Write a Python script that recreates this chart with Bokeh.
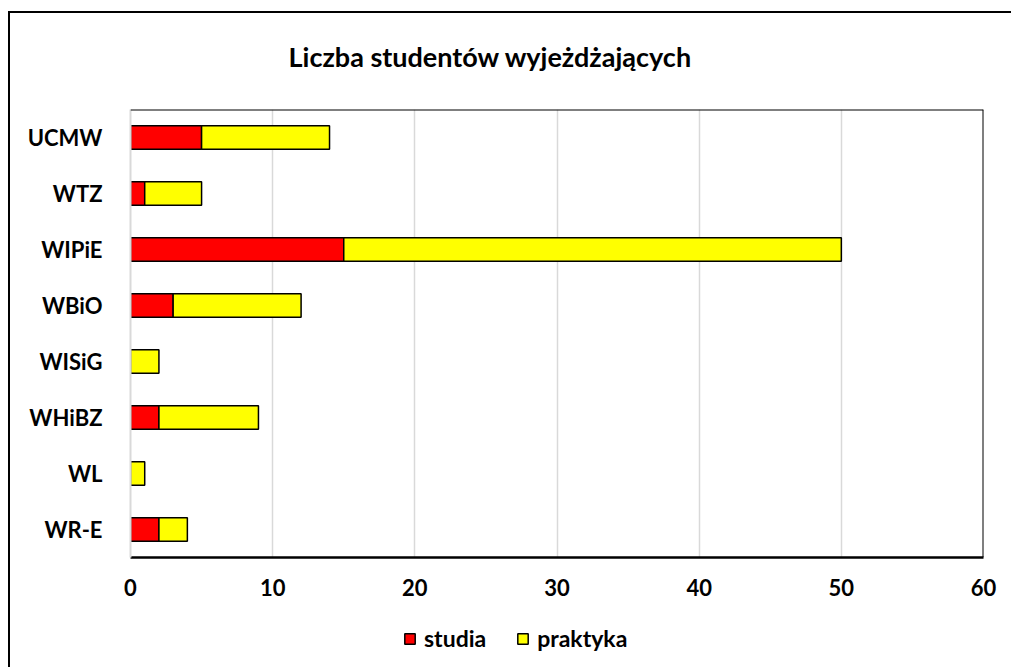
from bokeh.plotting import figure
from bokeh.layouts import column
from bokeh.models import (FactorRange, Range1d, FixedTicker, Legend, Span, Title)
from bokeh.embed import file_html
from bokeh.resources import INLINE

categories = ["UCMW", "WTZ", "WIPiE", "WBiO", "WISiG", "WHiBZ", "WL", "WR-E"]
studia = [5, 1, 15, 3, 0, 2, 0, 2]
praktyka = [9, 4, 35, 9, 2, 7, 1, 2]
x_ticks = [0, 10, 20, 30, 40, 50, 60]
series_names = ["studia", "praktyka"]
series_colors = ["#FF0000", "#FFFF00"]
title_text = "Liczba studentów wyjeżdżających"

FONT = "Lato"

data = {"cat": categories, "studia": studia, "praktyka": praktyka}

# ---- main chart ----
p = figure(
    frame_width=853, frame_height=448,
    y_range=FactorRange(factors=list(reversed(categories))),
    x_range=Range1d(0, 60),
    output_backend="svg", toolbar_location=None,
    min_border_left=130, min_border_right=28,
    min_border_top=102, min_border_bottom=50,
)
p.border_fill_alpha = 0
p.styles = {
    "background": ("linear-gradient(#000, #000) 8px 11px / 2px 100% no-repeat, "
                   "linear-gradient(#000, #000) 8px 11px / 100% 2px no-repeat, #fff"),
}

renderers = p.hbar_stack(series_names, y="cat", height=0.42, source=data,
                         color=series_colors, line_color="black",
                         line_width=1.5)

p.title = Title(text=title_text, align="left", offset=158,
                text_font=FONT, text_font_size="27px", text_font_style="bold",
                text_color="black", standoff=74)

p.xaxis.ticker = FixedTicker(ticks=x_ticks)
p.xaxis.major_label_text_font = FONT
p.xaxis.major_label_text_font_size = "22px"
p.xaxis.major_label_text_font_style = "bold"
p.xaxis.major_label_text_color = "black"
p.xaxis.major_label_standoff = 15
p.xaxis.major_tick_line_color = None
p.xaxis.minor_tick_line_color = None
p.xaxis.axis_line_color = "black"
p.xaxis.axis_line_width = 2.5

p.yaxis.major_label_text_font = FONT
p.yaxis.major_label_text_font_size = "22px"
p.yaxis.major_label_text_font_style = "bold"
p.yaxis.major_label_text_color = "black"
p.yaxis.major_label_standoff = 22
p.yaxis.major_tick_line_color = None
p.yaxis.axis_line_color = "#d9d9d9"
p.yaxis.axis_line_width = 2

p.xgrid.grid_line_color = "#d9d9d9"
p.xgrid.grid_line_width = 1.5
p.ygrid.grid_line_color = None
p.outline_line_color = None

p.add_layout(Span(location=60, dimension="height", line_color="black", line_width=2))
p.add_layout(Span(location=8, dimension="width", line_color="black", line_width=2))

# ---- legend strip (swatch renderers sit outside the visible range) ----
q = figure(
    width=1011, height=67,
    x_range=Range1d(0, 1011), y_range=Range1d(0, 67),
    x_axis_type=None, y_axis_type=None,
    output_backend="svg", toolbar_location=None, min_border=0,
)
q.border_fill_alpha = 0
q.background_fill_alpha = 0
q.outline_line_color = None
q.grid.grid_line_color = None
q.styles = {
    "background": "linear-gradient(#000, #000) 8px 0 / 2px 100% no-repeat, #fff",
}
legend_renderers = [
    q.hbar(y=[-100], left=[0], right=[1], height=1, fill_color=c,
           line_color="black", line_width=1.5)
    for c in series_colors
]
legend = Legend(items=[(name, [r]) for name, r in zip(series_names, legend_renderers)],
                orientation="horizontal", location=(273, 22),
                glyph_width=13, glyph_height=13, label_standoff=8, spacing=30,
                padding=0, margin=0, border_line_color=None, background_fill_alpha=0,
                label_text_font=FONT, label_text_font_size="23px",
                label_text_font_style="bold", label_text_color="black")
q.add_layout(legend)

layout = column(p, q, spacing=0)
open("out.html", "w").write(file_html(layout, INLINE))
